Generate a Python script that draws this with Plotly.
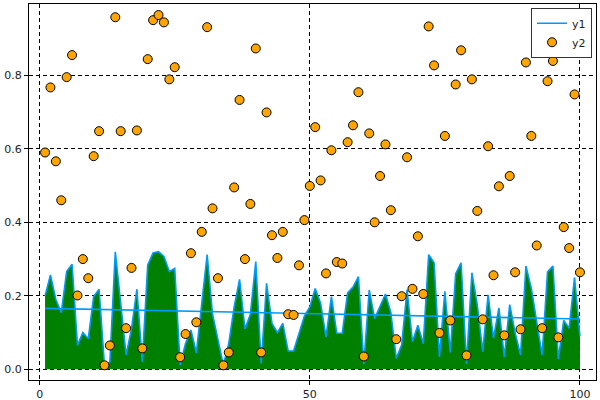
import plotly.graph_objects as go

# x positions
x = list(range(1, 101))

# filled series (blue outline, green fill)
y1 = [0.20, 0.257, 0.19, 0.154, 0.266, 0.286, 0.066, 0.10, 0.083, 0.198,
      0.218, 0.01, 0.02, 0.32, 0.18, 0.039, 0.11, 0.218, 0.02, 0.284,
      0.317, 0.32, 0.307, 0.266, 0.275, 0.012, 0.07, 0.107, 0.045, 0.18,
      0.312, 0.15, 0.085, 0.012, 0.07, 0.17, 0.245, 0.11, 0.15, 0.293,
      0.016, 0.234, 0.125, 0.10, 0.125, 0.05, 0.05, 0.098, 0.145, 0.17,
      0.22, 0.18, 0.088, 0.198, 0.098, 0.098, 0.208, 0.224, 0.252, 0.015,
      0.216, 0.138, 0.172, 0.205, 0.155, 0.03, 0.066, 0.216, 0.075, 0.12,
      0.07, 0.312, 0.29, 0.034, 0.212, 0.046, 0.26, 0.29, 0.015, 0.263,
      0.175, 0.048, 0.203, 0.085, 0.167, 0.033, 0.176, 0.10, 0.039, 0.281,
      0.22, 0.125, 0.039, 0.265, 0.281, 0.028, 0.133, 0.112, 0.25, 0.09]

# scatter series
y2 = [0.59, 0.767, 0.566, 0.46, 0.795, 0.855, 0.201, 0.30, 0.248, 0.58,
      0.648, 0.011, 0.065, 0.958, 0.648, 0.112, 0.276, 0.65, 0.057, 0.844,
      0.95, 0.964, 0.944, 0.789, 0.822, 0.033, 0.096, 0.316, 0.128, 0.374,
      0.931, 0.438, 0.248, 0.011, 0.046, 0.495, 0.733, 0.30, 0.45, 0.873,
      0.046, 0.699, 0.365, 0.303, 0.374, 0.150, 0.148, 0.283, 0.406, 0.499,
      0.659, 0.514, 0.261, 0.596, 0.292, 0.288, 0.618, 0.664, 0.754, 0.035,
      0.642, 0.40, 0.526, 0.612, 0.433, 0.082, 0.199, 0.577, 0.219, 0.362,
      0.205, 0.933, 0.827, 0.099, 0.635, 0.133, 0.775, 0.868, 0.038, 0.789,
      0.431, 0.136, 0.607, 0.256, 0.498, 0.0925, 0.526, 0.264, 0.109, 0.835,
      0.635, 0.337, 0.112, 0.784, 0.839, 0.087, 0.387, 0.33, 0.748, 0.264]

# straight trend line end points
trend_x = [1, 100]
trend_y = [0.166, 0.137]

xticks = [0, 50, 100]
yticks = [0.0, 0.2, 0.4, 0.6, 0.8]

blue = "#009AF9"

fig = go.Figure()

fig.add_trace(go.Scatter(x=x, y=y1, mode="lines", fill="tozeroy",
                         fillcolor="#008000",
                         line=dict(color=blue, width=1.6),
                         showlegend=False))

fig.add_trace(go.Scatter(x=trend_x, y=trend_y, mode="lines", name="y1",
                         line=dict(color=blue, width=1.6)))

fig.add_trace(go.Scatter(x=x, y=y2, mode="markers", name="y2",
                         marker=dict(color="#FFA500", size=9,
                                     line=dict(color="black", width=1))))

axis_style = dict(showline=True, linecolor="black", linewidth=1, mirror=True,
                  showgrid=True, gridcolor="black", gridwidth=1,
                  griddash="4px,3px", zeroline=False, automargin=False,
                  ticks="outside", ticklen=4, tickcolor="black",
                  tickfont=dict(family="DejaVu Sans", size=11, color="#222"))

fig.update_xaxes(range=[-1.97, 102.97], tickvals=xticks, **axis_style)
fig.update_yaxes(range=[-0.029, 0.994], tickvals=yticks, tickformat=".1f",
                 **axis_style)

fig.update_layout(width=600, height=400,
                  margin=dict(l=29, r=4, t=4, b=20),
                  plot_bgcolor="white", paper_bgcolor="white",
                  font=dict(family="DejaVu Sans", size=11, color="#222"),
                  legend=dict(x=0.993, y=0.99, xanchor="right", yanchor="top",
                              bgcolor="white", bordercolor="#333", borderwidth=1,
                              font=dict(size=11), tracegroupgap=0,
                              itemwidth=30))

# drop the page's default body margin so the figure sits at the corner
fig.write_html("out.html", config={"displayModeBar": False},
               post_script="document.body.style.margin='0';")
